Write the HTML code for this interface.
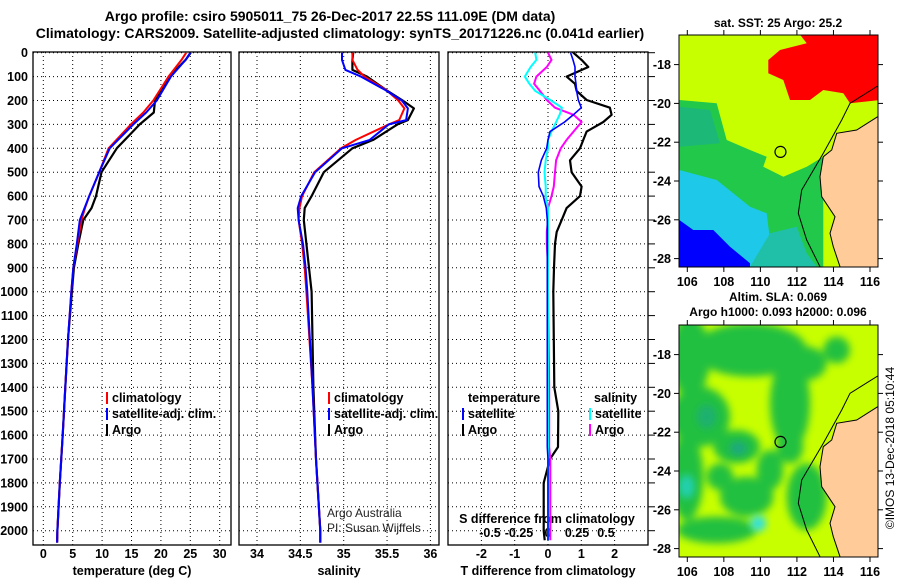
<!DOCTYPE html>
<html><head><meta charset="utf-8"><style>
body{margin:0;background:#fff;}
svg{display:block;font-family:"Liberation Sans",sans-serif;}
text{font-weight:bold;font-size:12.5px;fill:#000;}
</style></head><body>
<svg id="chart" width="900" height="580" viewBox="0 0 900 580" xmlns="http://www.w3.org/2000/svg">
<text x="330" y="21" text-anchor="middle" style="font-size:14px">Argo profile: csiro 5905011_75 26-Dec-2017 22.5S 111.09E (DM data)</text>
<text x="340" y="38" text-anchor="middle" style="font-size:14px">Climatology: CARS2009. Satellite-adjusted climatology: synTS_20171226.nc (0.041d earlier)</text>
<g id="plots"></g>
<g id="maps"></g>
</svg>
<script>
// ---------- data ----------
const depthTicks=[0,100,200,300,400,500,600,700,800,900,1000,1100,1200,1300,1400,1500,1600,1700,1800,1900,2000];
const tempTicks=[0,5,10,15,20,25,30];
const salTicks=[34,34.5,35,35.5,36];
const salTickLabels=["34","34.5","35","35.5","36"];
const tdTicks=[-2,-1,0,1,2];
const sdTicks=[-0.5,-0.25,0,0.25,0.5];
const sdTickLabels=["-0.5","-0.25","0","0.25","0.5"];
const mapLonTicks=[106,108,110,112,114,116];
const mapLatTicks=[-18,-20,-22,-24,-26,-28];

const tDepth=[0,30,100,200,250,300,400,500,600,650,700,800,900,1000,1200,1400,1600,1800,2000,2050];
const tArgo=[25.06,24.2,21.4,19.0,18.8,16.4,12.5,9.9,8.96,8.2,6.8,5.96,5.2,4.87,4.2,3.74,3.3,2.8,2.4,2.35];
const tClim=[24.3,23.5,21.3,18.7,17.0,14.9,11.1,9.5,7.8,7.1,6.5,5.8,5.1,4.76,4.2,3.74,3.3,2.8,2.4,2.35];
const tSat=[25.0,24.2,21.7,19.3,17.5,15.3,11.3,9.5,7.8,7.0,6.2,5.7,5.1,4.76,4.2,3.74,3.3,2.8,2.4,2.35];

const sDepth=[0,30,72,100,156,200,233,282,300,365,400,500,600,650,700,800,900,1000,1400,1700,2000,2050];
const sArgo=[35.11,35.1,35.1,35.27,35.49,35.68,35.81,35.74,35.62,35.34,35.1,34.77,34.63,34.55,34.54,34.57,34.6,34.63,34.65,34.68,34.73,34.73];
const sClim=[35.1,35.1,35.16,35.24,35.49,35.63,35.70,35.64,35.52,35.14,34.97,34.66,34.52,34.49,34.48,34.52,34.55,34.57,34.64,34.68,34.73,34.73];
const sSat=[34.98,34.98,35.02,35.2,35.48,35.67,35.74,35.72,35.52,35.3,34.98,34.67,34.51,34.47,34.48,34.53,34.56,34.58,34.64,34.68,34.73,34.73];

const dDepth=[0,30,60,100,130,160,198,230,260,290,330,365,400,450,500,560,600,650,700,750,800,900,1000,1400,1500,1650,1700,1800,2000,2040];
const dTArgo=[0.76,1.01,1.21,0.56,0.81,0.86,1.16,1.86,1.91,1.66,1.16,1.06,0.96,0.66,0.71,1.01,0.96,0.56,0.41,0.26,0.21,0.18,0.16,0.19,0.31,0.3,0.06,-0.13,-0.13,-0.1];
const dTSat=[0.68,0.75,0.81,0.81,0.84,0.86,0.91,1.0,0.76,0.5,0.06,0.0,-0.04,-0.2,-0.29,-0.27,-0.14,-0.05,-0.02,-0.02,-0.02,-0.02,-0.02,-0.02,-0.02,-0.02,0,0,0,0];
const dSArgo=[0.0,0.03,-0.01,-0.1,-0.12,-0.07,-0.01,0.06,0.22,0.29,0.22,0.16,0.11,0.07,0.06,0.05,0.03,0.0,0.0,-0.01,-0.01,0,0,0.01,0.01,0.01,0.02,0.02,0.02,0.02];
const dSSat=[-0.11,-0.1,-0.15,-0.2,-0.16,-0.11,0.02,0.12,0.1,0.07,0.03,0.0,0.0,-0.02,-0.03,-0.02,-0.02,0.0,0.0,0,0,0,0,0,0,0,0,0,0,0];

// ---------- axes ----------
const NS="http://www.w3.org/2000/svg";
const plots=document.getElementById('plots');
const maps=document.getElementById('maps');
function mk(tag,attrs,parent,txt){const e=document.createElementNS(NS,tag);for(const k in attrs)e.setAttribute(k,attrs[k]);if(txt!==undefined)e.textContent=txt;(parent||plots).appendChild(e);return e;}
const TOP=52,BOT=545;
const yD=d=>52.7+0.239*d;
const xT=t=>43.3+5.88*t;
const xS=s=>257+86.7*(s-34);
const xDT=v=>548+33.3*v;
const xDS=v=>548+116*v;
const panels=[[33,231],[239,439],[448,648]];

panels.forEach((p,i)=>{
  const g=mk('g',{});
  
  
  depthTicks.forEach(d=>{const l=mk('line',{x1:p[0],x2:p[1],y1:yD(d),y2:yD(d),stroke:'#000','stroke-dasharray':'1,3','stroke-width':1},g);});
  const vt=i==0?tempTicks.map(xT):i==1?salTicks.map(xS):tdTicks.map(xDT);
  vt.forEach(x=>{const l=mk('line',{x1:x,x2:x,y1:TOP,y2:BOT,stroke:'#000','stroke-dasharray':'1,3','stroke-width':1},g);});
  const r=mk('rect',{x:p[0],y:TOP,width:p[1]-p[0],height:BOT-TOP,fill:'none',stroke:'#000','stroke-width':1.3},g);
  
});
depthTicks.forEach(d=>{
  const t=mk('text',{x:28,y:yD(d)+4.5,'text-anchor':'end'},plots,String(d));
  
  const k=mk('line',{x1:648,x2:655,y1:yD(d),y2:yD(d),stroke:'#000'});
  
});
tempTicks.forEach(v=>{const t=mk('text',{x:xT(v),y:558,'text-anchor':'middle'},plots,String(v));});
salTicks.forEach((v,i)=>{const t=mk('text',{x:xS(v),y:558,'text-anchor':'middle'},plots,salTickLabels[i]);});
tdTicks.forEach(v=>{const t=mk('text',{x:xDT(v),y:558,'text-anchor':'middle'},plots,String(v));});
sdTicks.forEach((v,i)=>{const t=mk('text',{x:xDS(v),y:537,'text-anchor':'middle'},plots,sdTickLabels[i]);});
[["temperature (deg C)",132,'x-axis-title-temperature'],["salinity",339,'x-axis-title-salinity'],["T difference from climatology",548,'x-axis-title-t-diff']].forEach(a=>{const t=mk('text',{x:a[1],y:575,'text-anchor':'middle'},plots,a[0]);});
{const t=mk('text',{x:547,y:523,'text-anchor':'middle'},plots,'S difference from climatology');}

function series(xs,ds,fx,color,name,w){
  const pts=xs.map((v,i)=>fx(v).toFixed(1)+','+yD(ds[i]).toFixed(1)).join(' ');
  const l=mk('polyline',{points:pts,fill:'none',stroke:color,'stroke-width':w||2,'stroke-linejoin':'round'});
  
}
series(tArgo,tDepth,xT,'#000','temperature-argo-line',2.2);
series(tClim,tDepth,xT,'#f00','temperature-climatology-line');
series(tSat,tDepth,xT,'#00f','temperature-satellite-line');
series(sArgo,sDepth,xS,'#000','salinity-argo-line',2.2);
series(sClim,sDepth,xS,'#f00','salinity-climatology-line');
series(sSat,sDepth,xS,'#00f','salinity-satellite-line');
series(dTArgo,dDepth,xDT,'#000','t-diff-argo-line',2.2);
series(dSArgo,dDepth,xDS,'#f0f','s-diff-argo-line');
series(dSSat,dDepth,xDS,'#0ff','s-diff-satellite-line');
series(dTSat,dDepth,xDT,'#00f','t-diff-satellite-line',1.6);

function legend(x,y,color,label,name){
  const g=mk('g',{});
  
  mk('rect',{x:x,y:y-10,width:2,height:12,fill:color},g);
  mk('text',{x:x+6,y:y},g,label);
}
legend(106,402,'#f00','climatology','legend-t-climatology');
legend(106,418,'#00f','satellite-adj. clim.','legend-t-satellite');
legend(106,434,'#000','Argo','legend-t-argo');
legend(328,402,'#f00','climatology','legend-s-climatology');
legend(328,418,'#00f','satellite-adj. clim.','legend-s-satellite');
legend(328,434,'#000','Argo','legend-s-argo');
{const t=mk('text',{x:468,y:402},plots,'temperature');}
{const t=mk('text',{x:594,y:402},plots,'salinity');}
legend(462,418,'#00f','satellite','legend-dt-satellite');
legend(462,434,'#000','Argo','legend-dt-argo');
legend(589,418,'#0ff','satellite','legend-ds-satellite');
legend(589,434,'#f0f','Argo','legend-ds-argo');
{const t=mk('text',{x:327,y:517,style:'font-weight:normal;font-size:12px;fill:#222'},plots,'Argo Australia');}
{const t=mk('text',{x:327,y:532,style:'font-weight:normal;font-size:12px;fill:#222'},plots,'PI: Susan Wijffels');}

// ---------- maps ----------
const defs=mk('defs',{},maps);
const f=mk('filter',{id:'blur',x:'-30%',y:'-30%',width:'160%',height:'160%'},defs);
mk('feGaussianBlur',{stdDeviation:'4'},f);
const cp1=mk('clipPath',{id:'c1'},defs);mk('rect',{x:679,y:35,width:199,height:232},cp1);
const cp2=mk('clipPath',{id:'c2'},defs);mk('rect',{x:679,y:325,width:199,height:232},cp2);
const zp=(arr,dy)=>arr.map(p=>(650+p[0]/3).toFixed(1)+','+(p[1]/3+dy).toFixed(1)).join(' ');
const land=[[683,350],[620,390],[560,400],[545,450],[520,470],[510,530],[515,590],[555,650],[540,700],[550,740],[570,800],[690,800],[690,350]];
const contour=[[683,258],[600,310],[575,360],[520,460],[455,570],[445,640],[470,720],[510,800]];

function drawMap(top,clip,name){
  const g=mk('g',{'clip-path':'url(#'+clip+')'},maps);
  
  mk('rect',{x:679,y:top,width:199,height:232,fill:'#c8ff00'},g);
  return g;
}
const m1=drawMap(35,'c1','sst-map');
mk('polygon',{points:zp([[88,300],[200,310],[230,420],[300,450],[350,470],[340,500],[400,530],[470,500],[520,470],[520,800],[88,800]],0),fill:'#22c84a'},m1);
mk('polygon',{points:zp([[88,320],[180,330],[210,430],[88,440]],0),fill:'#1cb878'},m1);
mk('polygon',{points:zp([[88,510],[200,540],[300,620],[350,640],[360,720],[320,800],[88,800]],0),fill:'#1ec8e8'},m1);
mk('polygon',{points:zp([[360,700],[440,680],[470,760],[500,800],[300,800]],0),fill:'#20c0a8'},m1);
mk('polygon',{points:zp([[88,660],[130,690],[190,690],[240,740],[300,790],[300,800],[88,800]],0),fill:'#0000ff'},m1);
mk('polygon',{points:zp([[450,104],[690,104],[690,300],[600,310],[580,280],[520,270],[480,300],[420,300],[400,240],[355,220],[355,180],[390,150],[470,130]],0),fill:'#ff0000'},m1);
mk('polygon',{points:zp(land,0),fill:'#ffcc99'},m1);
mk('polyline',{points:zp(contour,0),fill:'none',stroke:'#000','stroke-width':1},m1);
mk('polyline',{points:zp(land.slice(0,11),0),fill:'none',stroke:'#000','stroke-width':1},m1);

const m2=drawMap(325,'c2','sla-map');
const blobs=[[300,180,170,80],[120,200,60,120],[150,380,90,90],[110,560,50,130],[290,620,80,60],[420,340,60,140],[260,470,70,50],[470,220,60,50],[560,180,40,40],[200,720,120,40],[470,620,60,100],[360,540,40,60],[420,470,40,50],[210,560,40,40]];
const blurG=mk('g',{filter:'url(#blur)'},m2);
blobs.forEach(b=>mk('ellipse',{cx:650+b[0]/3,cy:290+b[1]/3,rx:b[2]/3,ry:b[3]/3,fill:'#20c040'},blurG));
mk('ellipse',{cx:650+110/3,cy:290+590/3,rx:8,ry:12,fill:'#20d0b0',filter:'url(#blur)'},m2);
mk('ellipse',{cx:650+325/3,cy:290+700/3,rx:8,ry:8,fill:'#30e0e0',filter:'url(#blur)'},m2);
mk('ellipse',{cx:650+265/3,cy:290+475/3,rx:9,ry:7,fill:'#1aa880',filter:'url(#blur)'},m2);
mk('ellipse',{cx:650+170/3,cy:290+380/3,rx:10,ry:12,fill:'#1ab070',filter:'url(#blur)'},m2);
mk('polygon',{points:zp(land,290),fill:'#ffcc99'},m2);
mk('polyline',{points:zp(contour,290),fill:'none',stroke:'#000','stroke-width':1},m2);
mk('polyline',{points:zp(land.slice(0,11),290),fill:'none',stroke:'#000','stroke-width':1},m2);

const mx=lon=>687.3+18.27*(lon-106);
const my=(lat,top)=>top+29.6+19.4*(-18-lat);
[[35,'sst'],[325,'sla']].forEach(a=>{
  const top=a[0];
  const fr=mk('rect',{x:679,y:top,width:199,height:232,fill:'none',stroke:'#000','stroke-width':1},maps);
  
  const c=mk('circle',{cx:mx(111.1),cy:my(-22.5,top),r:5.5,fill:'none',stroke:'#000','stroke-width':1.2},maps);
  
  mapLonTicks.forEach(v=>{
    mk('line',{x1:mx(v),x2:mx(v),y1:top+232,y2:top+237,stroke:'#000'},maps);
    mk('line',{x1:mx(v),x2:mx(v),y1:top,y2:top-5,stroke:'#000'},maps);
    const t=mk('text',{x:mx(v),y:top+251,'text-anchor':'middle'},maps,String(v));
    
  });
  mapLatTicks.forEach(v=>{
    mk('line',{x1:679,x2:674,y1:my(v,top),y2:my(v,top),stroke:'#000'},maps);
    mk('line',{x1:878,x2:883,y1:my(v,top),y2:my(v,top),stroke:'#000'},maps);
    const t=mk('text',{x:671,y:my(v,top)+4.5,'text-anchor':'end'},maps,String(v));
    
  });
});
{const t=mk('text',{x:778,y:27,'text-anchor':'middle',style:'font-size:12px'},maps,'sat. SST: 25 Argo: 25.2');}
{const t=mk('text',{x:778,y:301,'text-anchor':'middle',style:'font-size:12px'},maps,'Altim. SLA: 0.069');}
{const t=mk('text',{x:778,y:316,'text-anchor':'middle',style:'font-size:12px'},maps,'Argo h1000: 0.093 h2000: 0.096');}
{const t=mk('text',{x:0,y:0,'text-anchor':'middle',transform:'translate(894,448) rotate(-90)',style:'font-weight:normal;font-size:12px'},maps,'©IMOS 13-Dec-2018 05:10:44');}
</script>
</body></html>
